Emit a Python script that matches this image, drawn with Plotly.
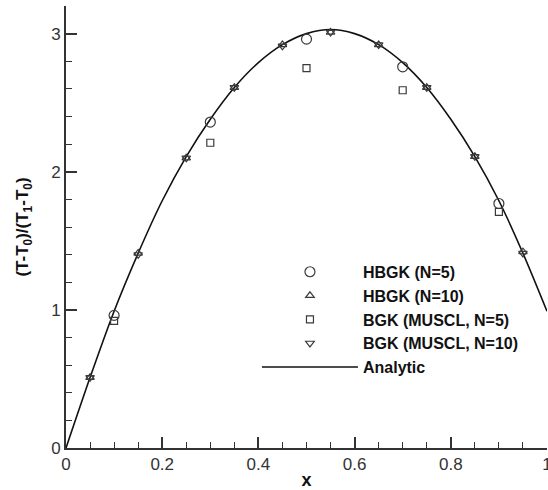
import plotly.graph_objects as go

# ---- data ----
x_n5 = [0.1, 0.3, 0.5, 0.7, 0.9]
hbgk_n5 = [0.96, 2.36, 2.96, 2.76, 1.77]
bgk_n5 = [0.92, 2.21, 2.75, 2.59, 1.71]

x_n10 = [0.05, 0.15, 0.25, 0.35, 0.45, 0.55, 0.65, 0.75, 0.85, 0.95]
hbgk_n10 = [0.51, 1.41, 2.10, 2.61, 2.92, 3.01, 2.92, 2.61, 2.11, 1.42]
bgk_n10 = [0.51, 1.40, 2.10, 2.61, 2.91, 3.01, 2.92, 2.61, 2.11, 1.41]

x_analytic = [0.0, 0.05, 0.1, 0.15, 0.2, 0.25, 0.3, 0.35, 0.4, 0.45, 0.5,
              0.55, 0.6, 0.65, 0.7, 0.75, 0.8, 0.85, 0.9, 0.95, 1.0]
y_analytic = [0.0, 0.51, 0.99, 1.41, 1.79, 2.11, 2.38, 2.61, 2.79, 2.92, 3.00,
              3.03, 3.00, 2.92, 2.79, 2.61, 2.38, 2.11, 1.79, 1.41, 0.99]

x_tickvals = [0, 0.2, 0.4, 0.6, 0.8, 1.0]
x_ticktext = ["0", "0.2", "0.4", "0.6", "0.8", "1"]
y_tickvals = [0, 1, 2, 3]
y_ticktext = ["0", "1", "2", "3"]

FONT = "Liberation Sans, Arial, sans-serif"
MK = "#3a3a3a"

fig = go.Figure()

fig.add_trace(go.Scatter(
    x=x_analytic, y=y_analytic, mode="lines", name="<b>Analytic</b>",
    line=dict(color="#111111", width=1.6, shape="spline", smoothing=0.8),
    legendrank=5))

fig.add_trace(go.Scatter(
    x=x_n5, y=hbgk_n5, mode="markers", name="<b>HBGK (N=5)</b>",
    marker=dict(symbol="circle-open", size=10, color=MK, line=dict(width=1.2)),
    legendrank=1))
fig.add_trace(go.Scatter(
    x=x_n10, y=hbgk_n10, mode="markers", name="<b>HBGK (N=10)</b>",
    marker=dict(symbol="triangle-up-open", size=7.5, color=MK, line=dict(width=1.2)),
    legendrank=2))
fig.add_trace(go.Scatter(
    x=x_n5, y=bgk_n5, mode="markers", name="<b>BGK (MUSCL, N=5)</b>",
    marker=dict(symbol="square-open", size=7, color=MK, line=dict(width=1.2)),
    legendrank=3))
fig.add_trace(go.Scatter(
    x=x_n10, y=bgk_n10, mode="markers", name="<b>BGK (MUSCL, N=10)</b>",
    marker=dict(symbol="triangle-down-open", size=7.5, color=MK, line=dict(width=1.2)),
    legendrank=4))

axis_common = dict(
    showgrid=False, zeroline=False, showline=True, linewidth=2, linecolor="#333333",
    ticks="inside", ticklen=11, tickwidth=2, tickcolor="#333333",
    tickfont=dict(family=FONT, size=17, color="#333333"),
    mirror=False, automargin=False, ticklabeloverflow="allow",
)

fig.update_xaxes(
    range=[0, 1], tickvals=x_tickvals, ticktext=x_ticktext,
    minor=dict(dtick=0.05, ticks="inside", ticklen=6, tickwidth=1.3, tickcolor="#333333"),
    title=dict(text="<b>x</b>", font=dict(family=FONT, size=18, color="#111111"), standoff=0),
    **axis_common)
fig.update_yaxes(
    range=[0, 3.2], tickvals=y_tickvals, ticktext=y_ticktext,
    minor=dict(dtick=0.2, ticks="inside", ticklen=6, tickwidth=1.3, tickcolor="#333333"),
    title=dict(text="<b>(T-T<sub>0</sub>)/(T<sub>1</sub>-T<sub>0</sub>)</b>",
               font=dict(family=FONT, size=17, color="#111111"), standoff=18),
    **axis_common)

fig.update_layout(
    width=548, height=490,
    margin=dict(l=66, r=1, t=6, b=42),
    paper_bgcolor="white", plot_bgcolor="white",
    showlegend=True,
    legend=dict(
        x=0.397, y=0.437, xanchor="left", yanchor="top",
        bgcolor="rgba(0,0,0,0)", itemwidth=96,
        font=dict(family=FONT, size=16, color="#111111"),
        tracegroupgap=0,
    ),
)

fig.write_html("out.html",
               config={"displayModeBar": False},
               post_script="document.body.style.margin='0';document.body.style.overflow='hidden';")
